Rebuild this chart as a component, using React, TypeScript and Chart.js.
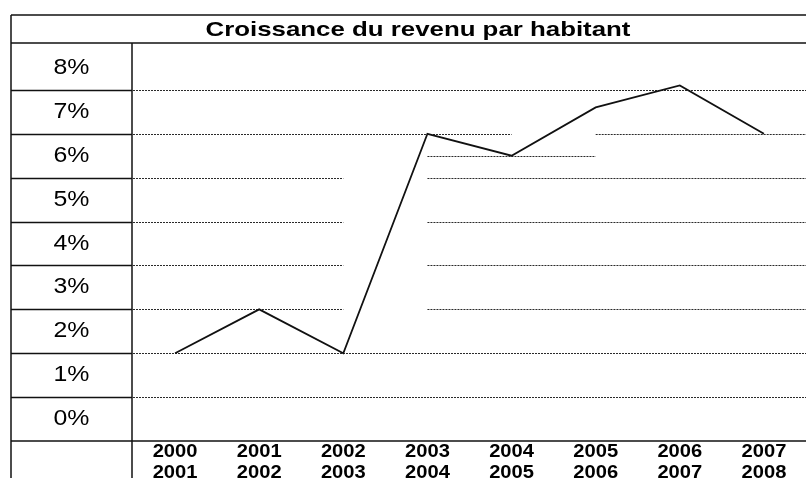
import React, { useEffect, useRef } from "react";
import { Chart, registerables } from "chart.js";

Chart.register(...registerables);

// ---- data ----
const chartTitle = "Croissance du revenu par habitant";
const startYears = ["2000", "2001", "2002", "2003", "2004", "2005", "2006", "2007"];
const endYears = ["2001", "2002", "2003", "2004", "2005", "2006", "2007", "2008"];
const growth = [1.5, 2.5, 1.5, 6.5, 6.0, 7.1, 7.6, 6.5];
const yTickValues = [0, 1, 2, 3, 4, 5, 6, 7, 8];
const yTickLabels = ["0%", "1%", "2%", "3%", "4%", "5%", "6%", "7%", "8%"];

// dotted grid segments (value on y axis; spans between category indices, null = plot edge)
const gridSegments: { value: number; spans: (number | null)[][] }[] = [
  { value: 7.5, spans: [[null, null]] },
  { value: 6.5, spans: [[null, 4], [5, null]] },
  { value: 6.0, spans: [[3, 5]] },
  { value: 5.5, spans: [[null, 2], [3, null]] },
  { value: 4.5, spans: [[null, 2], [3, null]] },
  { value: 3.5, spans: [[null, 2], [3, null]] },
  { value: 2.5, spans: [[null, 2], [3, null]] },
  { value: 1.5, spans: [[null, null]] },
  { value: 0.5, spans: [[null, null]] },
];
const cellBorders = [0.5, 1.5, 2.5, 3.5, 4.5, 5.5, 6.5, 7.5];

const FONT = "'Liberation Sans', Arial, sans-serif";

function stretchedText(ctx: CanvasRenderingContext2D, text: string, x: number, y: number, sx: number) {
  ctx.save();
  ctx.translate(x, y);
  ctx.scale(sx, 1);
  ctx.fillText(text, 0, 0);
  ctx.restore();
}

const tablePlugin = {
  id: "tableFrame",
  beforeDatasetsDraw(chart: any) {
    const ctx: CanvasRenderingContext2D = chart.ctx;
    const { left, right, bottom } = chart.chartArea;
    const xs = chart.scales.x;
    const ys = chart.scales.y;
    const W = chart.width;
    const H = chart.height;
    const frameLeft = 11;
    const frameTop = 15;
    const titleBottom = 43;
    const colX = left - 1;

    ctx.save();
    // dotted grid lines
    ctx.strokeStyle = "#2a2a2a";
    ctx.lineWidth = 1;
    ctx.setLineDash([2, 1]);
    gridSegments.forEach((g) => {
      const py = Math.round(ys.getPixelForValue(g.value)) + 0.5;
      g.spans.forEach(([a, b]) => {
        const x0 = a == null ? left : xs.getPixelForValue(a);
        const x1 = b == null ? right : xs.getPixelForValue(b);
        ctx.beginPath();
        ctx.moveTo(x0, py);
        ctx.lineTo(x1, py);
        ctx.stroke();
      });
    });
    ctx.setLineDash([]);

    // table frame
    ctx.strokeStyle = "#111";
    ctx.lineWidth = 1.5;
    const line = (x0: number, y0: number, x1: number, y1: number) => {
      ctx.beginPath();
      ctx.moveTo(x0, y0);
      ctx.lineTo(x1, y1);
      ctx.stroke();
    };
    line(frameLeft, frameTop, W, frameTop);
    line(frameLeft, titleBottom, W, titleBottom);
    line(frameLeft, frameTop, frameLeft, H);
    line(colX, titleBottom, colX, H);
    line(frameLeft, bottom, W, bottom);
    cellBorders.forEach((v) => {
      const py = Math.round(ys.getPixelForValue(v)) + 0.5;
      line(frameLeft, py, colX, py);
    });

    // title
    ctx.fillStyle = "#000";
    ctx.textAlign = "center";
    ctx.textBaseline = "alphabetic";
    ctx.font = `bold 21px ${FONT}`;
    stretchedText(ctx, chartTitle, 418, 36, 1.23);

    // y labels
    ctx.font = `22px ${FONT}`;
    ctx.textBaseline = "middle";
    yTickValues.forEach((v, i) => {
      stretchedText(ctx, yTickLabels[i], (frameLeft + colX) / 2, ys.getPixelForValue(v), 1.13);
    });

    // x labels
    ctx.font = `bold 18px ${FONT}`;
    startYears.forEach((s, i) => {
      const px = xs.getPixelForValue(i);
      stretchedText(ctx, s, px, bottom + 11, 1.12);
      stretchedText(ctx, endYears[i], px, bottom + 32, 1.12);
    });
    ctx.restore();
  },
};

export default function App() {
  const ref = useRef<HTMLCanvasElement>(null);
  useEffect(() => {
    const chart = new Chart(ref.current as HTMLCanvasElement, {
      type: "line",
      data: {
        labels: startYears.map((s, i) => `${s}-${endYears[i]}`),
        datasets: [
          {
            data: growth,
            borderColor: "#111",
            borderWidth: 1.8,
            pointRadius: 0,
            tension: 0,
            fill: false,
          },
        ],
      },
      options: {
        responsive: false,
        animation: false,
        layout: { padding: { left: 133, right: 0, top: 46, bottom: 37 } },
        plugins: { legend: { display: false }, tooltip: { enabled: false }, title: { display: false } },
        scales: {
          x: { type: "category", offset: true, display: false },
          y: { type: "linear", min: -0.5, max: 8.5, display: false },
        },
      },
      plugins: [tablePlugin],
    });
    return () => chart.destroy();
  }, []);
  return (
    <div style={{ position: "fixed", left: 0, top: 0, width: 806, height: 478, background: "#fff", overflow: "hidden" }}>
      <canvas ref={ref} width={806} height={478} style={{ display: "block" }} />
    </div>
  );
}
